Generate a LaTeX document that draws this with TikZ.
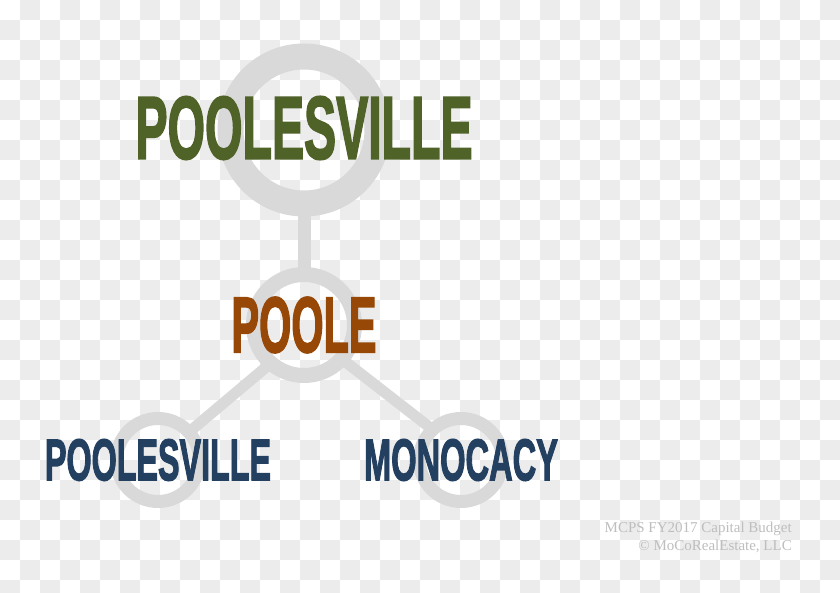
\documentclass[tikz,border=0pt]{standalone}
\usepackage{fontspec}
\setmainfont{Liberation Sans}
\newfontfamily\headfont{Liberation Sans}[BoldFeatures={FakeBold=2.5}]
\newfontfamily\notefont{Liberation Serif}
\usetikzlibrary{positioning}

\definecolor{ringgray}{HTML}{D9D9D9}
\definecolor{checkgray}{HTML}{ECECEC}
\definecolor{headgreen}{HTML}{4F6228}
\definecolor{headbrown}{HTML}{974806}
\definecolor{headblue}{HTML}{244061}
\definecolor{notegray}{HTML}{BEBEBE}

\newcommand{\fitto}[3]{\resizebox{#1pt}{#2pt}{\headfont\bfseries #3}}

\begin{document}
\begin{tikzpicture}[x=1pt, y=1pt, node distance=195pt, on grid,
    ring/.style 2 args={circle, draw=ringgray, line width=#1, minimum size=#2, inner sep=0pt, outer sep=0pt},
    link/.style={draw=ringgray, line width=11pt},
    head/.style={text=#1, inner sep=0pt},
    note/.style={font=\notefont\fontsize{15}{18}\selectfont, text=notegray, inner sep=0pt, anchor=base east}]
  \useasboundingbox (0,0) rectangle (840,-593);

  % checkered background
  \fill[white] (0,0) rectangle (840,-593);
  \foreach \i in {1,3,...,41}
    \foreach \j in {0,2,...,28}
      \fill[checkgray] (20*\i,-20*\j) rectangle ++(20,-20);
  \foreach \i in {0,2,...,40}
    \foreach \j in {1,3,...,29}
      \fill[checkgray] (20*\i,-20*\j) rectangle ++(20,-20);

  \node[ring={26pt}{147pt}] (T) at (304,-130) {};
  \node[ring={15pt}{101pt}] (P) [below=of T] {};
  \node[ring={13pt}{83pt}] (L) [below left=135pt and 146pt of P] {};
  \node[ring={13pt}{83pt}] (R) [below right=135pt and 157pt of P] {};

  \path[link]
    (T) edge[line width=13pt] (P)
    (P.-131) edge (L.42)
    (P.-42) edge (R.133);

  \node[head=headgreen, yshift=2pt] (Tt) at (T) {\fitto{337}{62}{POOLESVILLE}};
  \node[head=headbrown] (Pt) at (P) {\fitto{145}{55}{POOLE}};
  \node[head=headblue] (Lt) at (L) {\fitto{226}{41}{POOLESVILLE}};
  \node[head=headblue] (Rt) at (R) {\fitto{194}{41}{MONOCACY}};

  \node[note] (n1) at (792,-532) {MCPS FY2017 Capital Budget};
  \node[note] (n2) at (792,-550) {© MoCoRealEstate, LLC};
\end{tikzpicture}
\end{document}
